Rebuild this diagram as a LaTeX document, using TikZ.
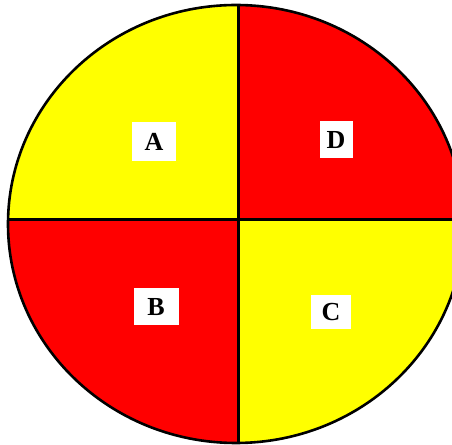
\documentclass[tikz,border=0pt]{standalone}
\usepackage{fontspec}
\setmainfont{Liberation Serif}
\definecolor{qyellow}{RGB}{255,255,0}
\definecolor{qred}{RGB}{255,0,0}
\begin{document}
\begin{tikzpicture}[x=1pt,y=1pt,
  lab/.style={fill=white, inner sep=0pt, font=\fontsize{26}{26}\selectfont\bfseries},
  edge/.style={line width=3pt, draw=black}]
\useasboundingbox (0,0) rectangle (452,444);
\clip (0,0) rectangle (452,444);
\coordinate (O) at (238,224);
\coordinate (T) at (238,460);
\coordinate (Bo) at (238,-10);
\coordinate (L) at (-10,224);
\coordinate (R) at (470,224);
\begin{scope}
  \clip (236,220) ellipse [x radius=228, y radius=219];
  \fill[qyellow] (O) rectangle (-10,460);
  \fill[qred] (O) rectangle (470,460);
  \fill[qred] (O) rectangle (-10,-10);
  \fill[qyellow] (O) rectangle (470,-10);
  \draw[edge] (T) -- (Bo);
  \draw[edge] (L) -- (R);
\end{scope}
\draw[line width=2.6pt] (236,220) ellipse [x radius=228, y radius=219];
\node[lab, minimum width=44pt, minimum height=39pt] (A) at (154,302) {A};
\node[lab, minimum width=33pt, minimum height=37pt] (D) at (336,304) {D};
\node[lab, minimum width=45pt, minimum height=37pt] (B) at (156,137) {B};
\node[lab, minimum width=40pt, minimum height=34pt] (C) at (331,132) {C};
\end{tikzpicture}
\end{document}
